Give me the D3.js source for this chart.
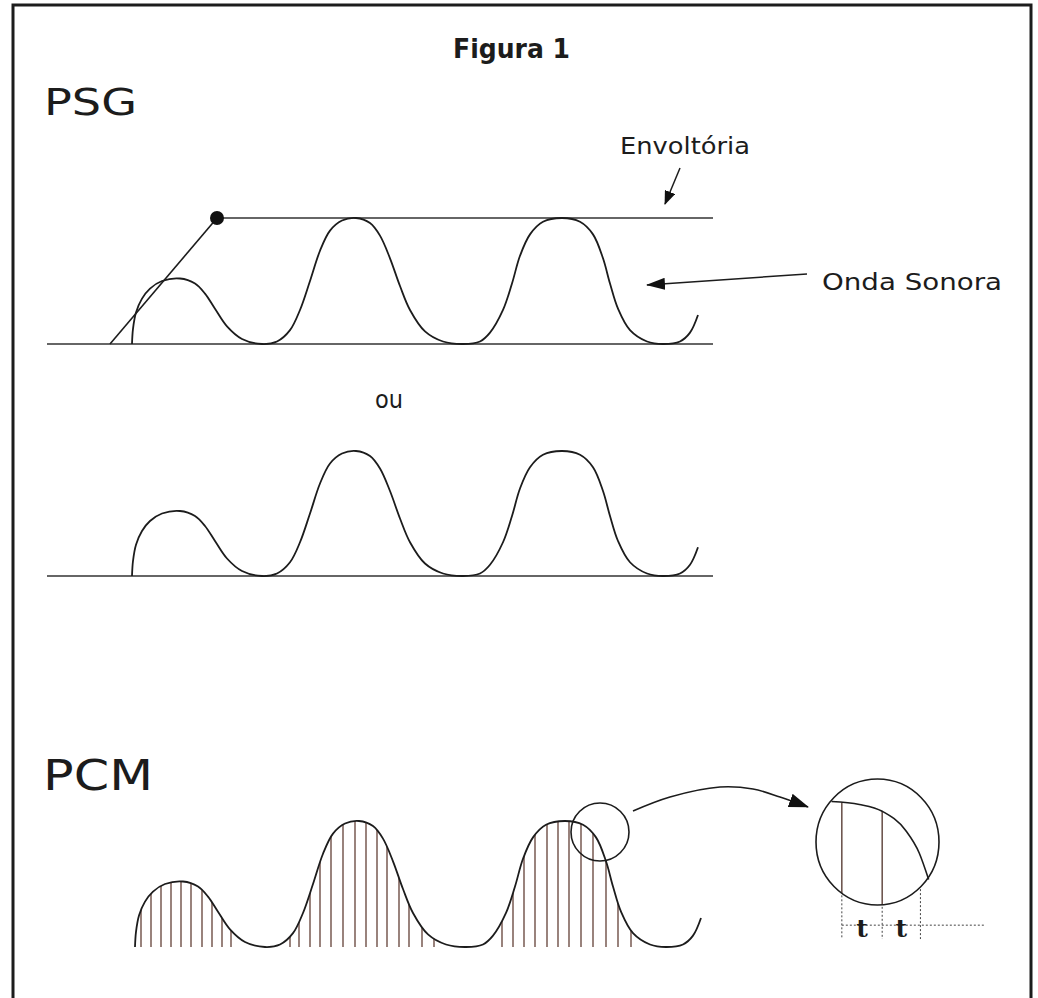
<!DOCTYPE html>
<html><head><meta charset="utf-8">
<script src="https://cdn.jsdelivr.net/npm/d3@7"></script>
<style>
html,body{margin:0;padding:0;background:#fff;}
svg{display:block;}
</style></head><body>
<svg id="fig" width="1038" height="998"></svg>
<script>
// ---------------- data ----------------
const titleText = "Figura 1";
const panelLabels = ["PSG", "PCM"];
const orLabel = "ou";
const envelopeLabel = "Envoltória";
const waveLabel = "Onda Sonora";
const periodLabels = ["t", "t"];

// sound wave: time units and amplitude (fraction of the envelope)
const waveT = [132,133,136,142,150,162,180,195,205,215,227,242,262,277,290,300,310,320,330,342,356,370,380,390,400,410,425,443,463,480,490,503,512,520,530,543,562,580,593,603,610,618,630,647,663,680,690,698];
const waveA = [0,0.12,0.25,0.36,0.44,0.50,0.52,0.48,0.40,0.28,0.14,0.04,0,0.02,0.11,0.27,0.50,0.74,0.90,0.98,1.0,0.96,0.86,0.68,0.46,0.27,0.10,0.02,0,0.02,0.09,0.27,0.48,0.70,0.87,0.97,1.0,0.97,0.87,0.68,0.48,0.28,0.11,0.02,0,0.02,0.09,0.23];

// axis (baseline) extent and envelope
const baselineT = [47, 713];
const envelopeRiseT = [110, 217];   // tangent from zero to envelope level
const envelopeTopT = [217, 713];
const envelopeLevel = 1.0;

// PCM sampling instants (time units)
const sampleT = [138,148,158,168,178,188,199,209,219,228,287,296,307,317,328,340,352,363,374,384,396,406,419,431,499,510,521,532,544,555,566,578,590,603,615,628];

// magnified detail (normalised units inside the zoom circle)
const zoomCurveU = [0.126,0.353,0.538,0.731,0.840,0.916];
const zoomCurveV = [0.822,0.798,0.744,0.589,0.411,0.202];
const zoomSampleU = [0.21,0.538,0.849];

// ---------------- drawing ----------------
const W = 1038, H = 998;
const svg = d3.select("#fig");
svg.append("rect").attr("width", W).attr("height", H).attr("fill", "#fff");

const ink = "#1c1c1c";
const sans = "'DejaVu Sans', 'Liberation Sans', sans-serif";

// frame
svg.append("rect").attr("x", 13).attr("y", 5).attr("width", 1018).attr("height", 1010)
  .attr("fill", "none").attr("stroke", ink).attr("stroke-width", 3);

const defs = svg.append("defs");
function marker(id, len, wid) {
  defs.append("marker").attr("id", id)
    .attr("viewBox", `0 0 ${len} ${wid}`).attr("refX", len - 1).attr("refY", wid / 2)
    .attr("markerWidth", len).attr("markerHeight", wid)
    .attr("markerUnits", "userSpaceOnUse").attr("orient", "auto")
    .append("path").attr("d", `M0,0L${len},${wid / 2}L0,${wid}Z`).attr("fill", "#111");
}
marker("headSmall", 14, 11);
marker("headLong", 19, 12);
marker("headCurve", 20, 14);

// scales
const xS = d3.scaleLinear().domain([0, 1000]).range([0, 1000]);
const xPCM = d3.scaleLinear().domain([0, 1000]).range([3, 1003]);
const yPSG = d3.scaleLinear().domain([0, 1]).range([344, 218]);
const yOU = d3.scaleLinear().domain([0, 1]).range([576, 451]);
const yPCM = d3.scaleLinear().domain([0, 1]).range([947, 821]);

const wave = d3.zip(waveT, waveA);
const waveCurve = d3.curveCatmullRom.alpha(0.5);

function drawWave(g, xs, ys) {
  const line = d3.line().x(d => xs(d[0])).y(d => ys(d[1])).curve(waveCurve);
  g.append("path").attr("d", line(wave)).attr("fill", "none")
    .attr("stroke", ink).attr("stroke-width", 1.8);
}
function drawBaseline(g, xs, ys) {
  g.append("line").attr("x1", xs(baselineT[0])).attr("x2", xs(baselineT[1]))
    .attr("y1", ys(0)).attr("y2", ys(0)).attr("stroke", "#333").attr("stroke-width", 1.6);
}

// title
svg.append("text").attr("x", 453).attr("y", 58).text(titleText)
  .attr("font-family", sans).attr("font-weight", "bold").attr("font-size", 27)
  .attr("textLength", 117).attr("lengthAdjust", "spacingAndGlyphs").attr("fill", ink);

// ---- PSG panel
const gPSG = svg.append("g");
gPSG.append("text").attr("x", 44).attr("y", 115).text(panelLabels[0])
  .attr("font-family", sans).attr("font-size", 37).attr("textLength", 93)
  .attr("lengthAdjust", "spacingAndGlyphs").attr("fill", ink);
drawBaseline(gPSG, xS, yPSG);
// envelope
gPSG.append("line").attr("x1", xS(envelopeRiseT[0])).attr("y1", yPSG(0))
  .attr("x2", xS(envelopeRiseT[1])).attr("y2", yPSG(envelopeLevel))
  .attr("stroke", ink).attr("stroke-width", 1.6);
gPSG.append("line").attr("x1", xS(envelopeTopT[0])).attr("y1", yPSG(envelopeLevel))
  .attr("x2", xS(envelopeTopT[1])).attr("y2", yPSG(envelopeLevel))
  .attr("stroke", "#333").attr("stroke-width", 1.6);
gPSG.append("circle").attr("cx", xS(envelopeRiseT[1])).attr("cy", yPSG(envelopeLevel))
  .attr("r", 7).attr("fill", "#111");
drawWave(gPSG, xS, yPSG);
// labels
gPSG.append("text").attr("x", 620).attr("y", 154).text(envelopeLabel)
  .attr("font-family", sans).attr("font-size", 23).attr("textLength", 130)
  .attr("lengthAdjust", "spacingAndGlyphs").attr("fill", ink);
gPSG.append("line").attr("x1", 680).attr("y1", 168).attr("x2", 665).attr("y2", 204)
  .attr("stroke", ink).attr("stroke-width", 1.5).attr("marker-end", "url(#headSmall)");
gPSG.append("text").attr("x", 822).attr("y", 290).text(waveLabel)
  .attr("font-family", sans).attr("font-size", 23).attr("textLength", 180)
  .attr("lengthAdjust", "spacingAndGlyphs").attr("fill", ink);
gPSG.append("line").attr("x1", 807).attr("y1", 274).attr("x2", 647).attr("y2", 285)
  .attr("stroke", ink).attr("stroke-width", 1.5).attr("marker-end", "url(#headLong)");

// ---- "ou" panel
const gOU = svg.append("g");
gOU.append("text").attr("x", 375).attr("y", 408).text(orLabel)
  .attr("font-family", sans).attr("font-size", 24).attr("textLength", 28)
  .attr("lengthAdjust", "spacingAndGlyphs").attr("fill", ink);
drawBaseline(gOU, xS, yOU);
drawWave(gOU, xS, yOU);

// ---- PCM panel
const gPCM = svg.append("g");
gPCM.append("text").attr("x", 43).attr("y", 790).text(panelLabels[1])
  .attr("font-family", sans).attr("font-size", 42).attr("textLength", 110)
  .attr("lengthAdjust", "spacingAndGlyphs").attr("fill", ink);

const area = d3.area().x(d => xPCM(d[0])).y0(yPCM(0)).y1(d => yPCM(d[1])).curve(waveCurve);
defs.append("clipPath").attr("id", "pcmClip").append("path").attr("d", area(wave));
gPCM.append("g").attr("clip-path", "url(#pcmClip)")
  .selectAll("line").data(sampleT).join("line")
  .attr("x1", d => xPCM(d)).attr("x2", d => xPCM(d))
  .attr("y1", yPCM(0)).attr("y2", yPCM(1.1))
  .attr("stroke", "#6e4e45").attr("stroke-width", 1.4);
drawWave(gPCM, xPCM, yPCM);

// small magnifier circle
gPCM.append("circle").attr("cx", 600).attr("cy", 832).attr("r", 29)
  .attr("fill", "none").attr("stroke", ink).attr("stroke-width", 1.6);
// curved arrow
const arrowPts = [[633, 811], [670, 797], [720, 787], [753, 789], [780, 797], [808, 807]];
gPCM.append("path").attr("d", d3.line().curve(d3.curveCatmullRom)(arrowPts))
  .attr("fill", "none").attr("stroke", ink).attr("stroke-width", 1.6)
  .attr("marker-end", "url(#headCurve)");

// magnified detail
const zx = d3.scaleLinear().domain([0, 1]).range([816, 939]);
const zy = d3.scaleLinear().domain([0, 1]).range([905, 779]);
const gZ = gPCM.append("g");
const cx = zx(0.5), cy = zy(0.5), rx = (zx(1) - zx(0)) / 2, ry = (zy(0) - zy(1)) / 2;
defs.append("clipPath").attr("id", "zoomClip").append("ellipse")
  .attr("cx", cx).attr("cy", cy).attr("rx", rx).attr("ry", ry);
const zCurve = d3.zip(zoomCurveU, zoomCurveV);
const zLine = d3.line().x(d => zx(d[0])).y(d => zy(d[1])).curve(d3.curveMonotoneX);
const zInterp = u => {
  const i = d3.bisectLeft(zoomCurveU, u);
  if (i <= 0) return zoomCurveV[0];
  if (i >= zoomCurveU.length) return zoomCurveV[zoomCurveV.length - 1];
  const t = (u - zoomCurveU[i - 1]) / (zoomCurveU[i] - zoomCurveU[i - 1]);
  return zoomCurveV[i - 1] + t * (zoomCurveV[i] - zoomCurveV[i - 1]);
};
gZ.append("g").attr("clip-path", "url(#zoomClip)")
  .selectAll("line").data(zoomSampleU.slice(0, 2)).join("line")
  .attr("x1", d => zx(d)).attr("x2", d => zx(d))
  .attr("y1", d => zy(zInterp(d))).attr("y2", zy(-0.1))
  .attr("stroke", "#5a3f38").attr("stroke-width", 1.4);
gZ.append("path").attr("d", zLine(zCurve)).attr("fill", "none")
  .attr("stroke", ink).attr("stroke-width", 1.6);
gZ.append("ellipse").attr("cx", cx).attr("cy", cy).attr("rx", rx).attr("ry", ry)
  .attr("fill", "none").attr("stroke", ink).attr("stroke-width", 1.6);
const edgeY = u => cy + ry * Math.sqrt(Math.max(0, 1 - Math.pow((zx(u) - cx) / rx, 2)));
gZ.selectAll("line.dot").data(zoomSampleU).join("line").attr("class", "dot")
  .attr("x1", d => zx(d)).attr("x2", d => zx(d))
  .attr("y1", d => edgeY(d) + 2).attr("y2", zy(-0.27))
  .attr("stroke", "#444").attr("stroke-width", 1).attr("stroke-dasharray", "2,2");
gZ.append("line").attr("x1", zx(zoomSampleU[0])).attr("x2", zx(1.37))
  .attr("y1", zy(-0.16)).attr("y2", zy(-0.16))
  .attr("stroke", "#444").attr("stroke-width", 1).attr("stroke-dasharray", "2,2");
gZ.selectAll("text").data(periodLabels).join("text")
  .attr("x", (d, i) => (zx(zoomSampleU[i]) + zx(zoomSampleU[i + 1])) / 2)
  .attr("y", zy(-0.25)).attr("text-anchor", "middle").text(d => d)
  .attr("font-family", "'DejaVu Serif', 'Liberation Serif', serif").attr("font-weight", "bold")
  .attr("font-size", 25).attr("fill", ink);
</script>
</body></html>
